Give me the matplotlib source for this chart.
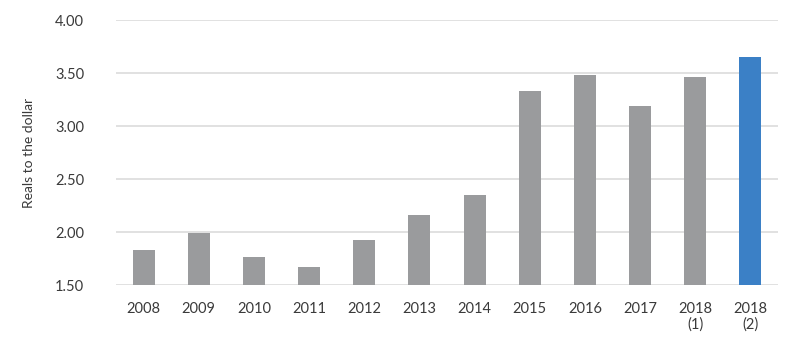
import matplotlib.pyplot as plt

# Exchange rate, reais per US dollar
years = ['2008', '2009', '2010', '2011', '2012', '2013', '2014',
         '2015', '2016', '2017', '2018\n(1)', '2018\n(2)']
rates = [1.83, 1.99, 1.76, 1.67, 1.92, 2.16, 2.35, 3.33, 3.48, 3.19, 3.46, 3.65]
colors = ['#9a9b9d'] * 11 + ['#3b80c6']

plt.rcParams['font.family'] = ['Lato', 'DejaVu Sans']

fig = plt.figure(figsize=(8, 3.51), dpi=100)
ax = fig.add_axes([0.145, 0.188, 0.8275, 0.755])

x = range(len(years))
ax.bar(x, rates, width=0.4, color=colors, zorder=3)

ax.set_ylim(1.5, 4.0)
ax.set_xlim(-0.5, len(years) - 0.5)
ax.set_yticks([1.5, 2.0, 2.5, 3.0, 3.5, 4.0])
ax.set_yticklabels(['%.2f' % v for v in ax.get_yticks()])
ax.set_xticks(list(x))
ax.set_xticklabels(years, linespacing=1.15, va='top')

ax.grid(axis='y', color='#dcdcdc', linewidth=1.2, zorder=0)
for s in ax.spines.values():
    s.set_visible(False)
ax.tick_params(axis='both', length=0, labelsize=10.5, colors='#3a3a3a')
ax.tick_params(axis='x', pad=12)
ax.tick_params(axis='y', pad=23)

ax.set_ylabel('Reals to the dollar', fontsize=10, color='#3a3a3a', labelpad=14)

fig.savefig('out.png', dpi=100)
